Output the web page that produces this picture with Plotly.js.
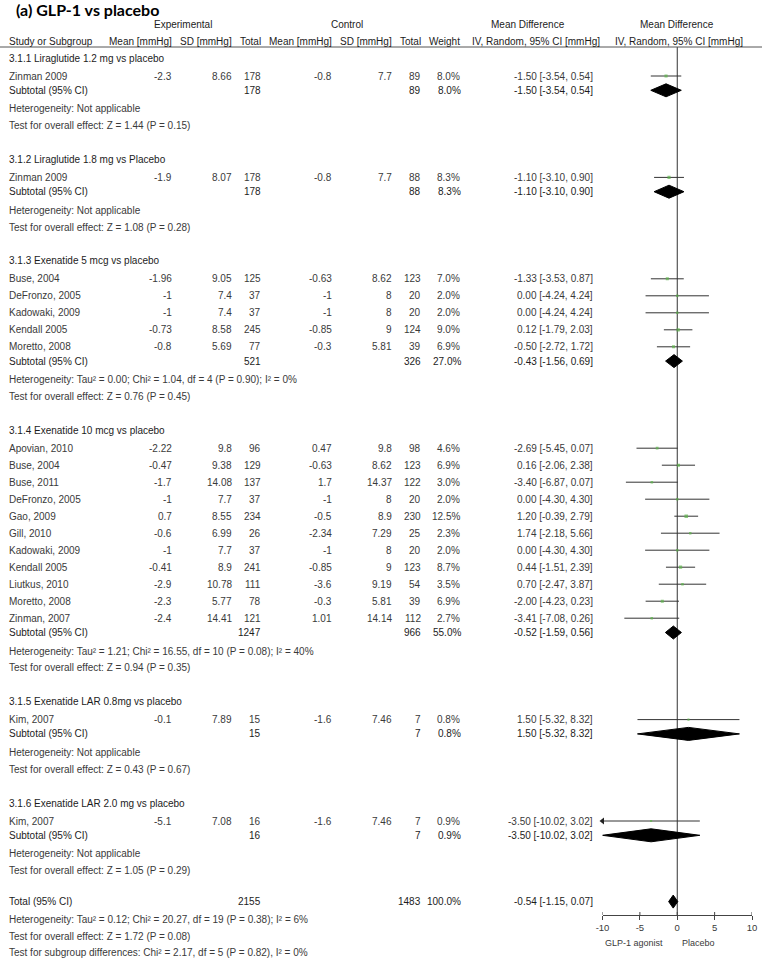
<!DOCTYPE html>
<html><head><meta charset="utf-8">
<script src="https://cdn.plot.ly/plotly-3.0.1.min.js"></script>
<style>html,body{margin:0;padding:0;background:#fff}</style>
</head><body><div id="chart" style="width:762px;height:960px"></div>
<script>
// ---------- data ----------
const groupNames = [
  '3.1.1 Liraglutide 1.2 mg vs placebo',
  '3.1.2 Liraglutide 1.8 mg vs Placebo',
  '3.1.3 Exenatide 5 mcg vs placebo',
  '3.1.4 Exenatide 10 mcg vs placebo',
  '3.1.5 Exenatide LAR 0.8mg vs placebo',
  '3.1.6 Exenatide LAR 2.0 mg vs placebo'
];
const groupHet = [
  'Heterogeneity: Not applicable',
  'Heterogeneity: Not applicable',
  'Heterogeneity: Tau² = 0.00; Chi² = 1.04, df = 4 (P = 0.90); I² = 0%',
  'Heterogeneity: Tau² = 1.21; Chi² = 16.55, df = 10 (P = 0.08); I² = 40%',
  'Heterogeneity: Not applicable',
  'Heterogeneity: Not applicable'
];
const groupTest = [
  'Test for overall effect: Z = 1.44 (P = 0.15)',
  'Test for overall effect: Z = 1.08 (P = 0.28)',
  'Test for overall effect: Z = 0.76 (P = 0.45)',
  'Test for overall effect: Z = 0.94 (P = 0.35)',
  'Test for overall effect: Z = 0.43 (P = 0.67)',
  'Test for overall effect: Z = 1.05 (P = 0.29)'
];
const subExpN   = [178, 178, 521, 1247, 15, 16];
const subCtlN   = [89, 88, 326, 966, 7, 7];
const subWeight = [8.0, 8.3, 27.0, 55.0, 0.8, 0.9];
const subMD     = [-1.50, -1.10, -0.43, -0.52, 1.50, -3.50];
const subLo     = [-3.54, -3.10, -1.56, -1.59, -5.32, -10.02];
const subHi     = [0.54, 0.90, 0.69, 0.56, 8.32, 3.02];

const studyGroup = [0, 1, 2, 2, 2, 2, 2, 3, 3, 3, 3, 3, 3, 3, 3, 3, 3, 3, 4, 5];
const studyNames = ['Zinman 2009', 'Zinman 2009',
  'Buse, 2004', 'DeFronzo, 2005', 'Kadowaki, 2009', 'Kendall 2005', 'Moretto, 2008',
  'Apovian, 2010', 'Buse, 2004', 'Buse, 2011', 'DeFronzo, 2005', 'Gao, 2009', 'Gill, 2010',
  'Kadowaki, 2009', 'Kendall 2005', 'Liutkus, 2010', 'Moretto, 2008', 'Zinman, 2007',
  'Kim, 2007', 'Kim, 2007'];
const expMean = [-2.3, -1.9, -1.96, -1, -1, -0.73, -0.8, -2.22, -0.47, -1.7, -1, 0.7, -0.6, -1, -0.41, -2.9, -2.3, -2.4, -0.1, -5.1];
const expSD   = [8.66, 8.07, 9.05, 7.4, 7.4, 8.58, 5.69, 9.8, 9.38, 14.08, 7.7, 8.55, 6.99, 7.7, 8.9, 10.78, 5.77, 14.41, 7.89, 7.08];
const expN    = [178, 178, 125, 37, 37, 245, 77, 96, 129, 137, 37, 234, 26, 37, 241, 111, 78, 121, 15, 16];
const ctlMean = [-0.8, -0.8, -0.63, -1, -1, -0.85, -0.3, 0.47, -0.63, 1.7, -1, -0.5, -2.34, -1, -0.85, -3.6, -0.3, 1.01, -1.6, -1.6];
const ctlSD   = [7.7, 7.7, 8.62, 8, 8, 9, 5.81, 9.8, 8.62, 14.37, 8, 8.9, 7.29, 8, 9, 9.19, 5.81, 14.14, 7.46, 7.46];
const ctlN    = [89, 88, 123, 20, 20, 124, 39, 98, 123, 122, 20, 230, 25, 20, 123, 54, 39, 112, 7, 7];
const weight  = [8.0, 8.3, 7.0, 2.0, 2.0, 9.0, 6.9, 4.6, 6.9, 3.0, 2.0, 12.5, 2.3, 2.0, 8.7, 3.5, 6.9, 2.7, 0.8, 0.9];
const md      = [-1.50, -1.10, -1.33, 0.00, 0.00, 0.12, -0.50, -2.69, 0.16, -3.40, 0.00, 1.20, 1.74, 0.00, 0.44, 0.70, -2.00, -3.41, 1.50, -3.50];
const ciLo    = [-3.54, -3.10, -3.53, -4.24, -4.24, -1.79, -2.72, -5.45, -2.06, -6.87, -4.30, -0.39, -2.18, -4.30, -1.51, -2.47, -4.23, -7.08, -5.32, -10.02];
const ciHi    = [0.54, 0.90, 0.87, 4.24, 4.24, 2.03, 1.72, 0.07, 2.38, 0.07, 4.30, 2.79, 5.66, 4.30, 2.39, 3.87, 0.23, 0.26, 8.32, 3.02];

const totalExpN = 2155, totalCtlN = 1483, totalWeight = 100.0;
const totalMD = -0.54, totalLo = -1.15, totalHi = 0.07;
const totalHet = 'Heterogeneity: Tau² = 0.12; Chi² = 20.27, df = 19 (P = 0.38); I² = 6%';
const totalTest = 'Test for overall effect: Z = 1.72 (P = 0.08)';
const subgroupDiff = 'Test for subgroup differences: Chi² = 2.17, df = 5 (P = 0.82), I² = 0%';

const tickVals = [-10, -5, 0, 5, 10];
const favoursLeft = 'GLP-1 agonist';
const favoursRight = 'Placebo';
const titleText = '(a) GLP-1 vs placebo';

// ---------- layout ----------
const W = 762, H = 960;
const FONT = '"Liberation Sans", Arial, sans-serif';
const TC = '#3a3a3a';     // normal text
const TD = '#1c1c1c';     // emphasised rows (headers, subtotals)
const AX_Y = 915;
const HEAD_LINE = 47;
const col = {name: 9, expMean: 172, expSD: 232, expN: 261, ctlMean: 332, ctlSD: 392, ctlN: 421, weight: 460, ci: 593};

// row positions
const groupY = [], studyY = [], subY = [], hetY = [], testY = [];
let y = 58;
for (let g = 0; g < groupNames.length; g++) {
  if (g > 0) y += 33.8;
  groupY.push(y);
  y += 18;
  let first = true;
  for (let i = 0; i < studyNames.length; i++) {
    if (studyGroup[i] !== g) continue;
    if (!first) y += 17;
    first = false;
    studyY[i] = y;
  }
  y += 14.3; subY.push(y);
  y += 18.5; hetY.push(y);
  y += 16.8; testY.push(y);
}
y += 31; const totalY = y;
y += 17.5; const totHetY = y;
y += 17; const totTestY = y;
y += 16; const subDiffY = y;

const anns = [];
function txt(x, yy, text, anchor, strong) {
  anns.push({
    xref: 'paper', yref: 'y', x: x / W, y: yy,
    text: text,
    xanchor: anchor, yanchor: 'middle', showarrow: false,
    borderpad: 0, borderwidth: 0,
    font: {family: FONT, size: 10, color: strong ? TD : TC}
  });
}
const f2 = v => v.toFixed(2);
const ciStr = (m, l, h) => f2(m) + ' [' + f2(l) + ', ' + f2(h) + ']';

// title
anns.push({xref: 'paper', yref: 'y', x: 16 / W, y: 9, text: '<b>' + titleText + '</b>',
  xanchor: 'left', yanchor: 'middle', showarrow: false, borderpad: 0, borderwidth: 0,
  font: {family: 'Lato, "Open Sans", sans-serif', size: 16, color: '#000'}});

// headers
txt(182.5, 24, 'Experimental', 'center', true);
txt(347, 24, 'Control', 'center', true);
txt(528, 24, 'Mean Difference', 'center', true);
txt(677, 24, 'Mean Difference', 'center', true);
txt(col.name, 41, 'Study or Subgroup', 'left', true);
txt(col.expMean, 41, 'Mean [mmHg]', 'right', true);
txt(col.expSD, 41, 'SD [mmHg]', 'right', true);
txt(col.expN, 41, 'Total', 'right', true);
txt(col.ctlMean, 41, 'Mean [mmHg]', 'right', true);
txt(col.ctlSD, 41, 'SD [mmHg]', 'right', true);
txt(col.ctlN, 41, 'Total', 'right', true);
txt(col.weight, 41, 'Weight', 'right', true);
txt(536, 41, 'IV, Random, 95% CI [mmHg]', 'center', true);
txt(679, 41, 'IV, Random, 95% CI [mmHg]', 'center', true);

// groups
for (let g = 0; g < groupNames.length; g++) {
  txt(col.name, groupY[g], groupNames[g], 'left', true);
  txt(col.name, subY[g], 'Subtotal (95% CI)', 'left', true);
  txt(col.expN, subY[g], String(subExpN[g]), 'right', true);
  txt(col.ctlN, subY[g], String(subCtlN[g]), 'right', true);
  txt(col.weight + 1.5, subY[g], subWeight[g].toFixed(1) + '%', 'right', true);
  txt(col.ci, subY[g], ciStr(subMD[g], subLo[g], subHi[g]), 'right', true);
  txt(col.name, hetY[g], groupHet[g], 'left', false);
  txt(col.name, testY[g], groupTest[g], 'left', false);
}
// studies
for (let i = 0; i < studyNames.length; i++) {
  const yy = studyY[i];
  txt(col.name, yy, studyNames[i], 'left', false);
  txt(col.expMean, yy, String(expMean[i]), 'right', false);
  txt(col.expSD, yy, String(expSD[i]), 'right', false);
  txt(col.expN, yy, String(expN[i]), 'right', false);
  txt(col.ctlMean, yy, String(ctlMean[i]), 'right', false);
  txt(col.ctlSD, yy, String(ctlSD[i]), 'right', false);
  txt(col.ctlN, yy, String(ctlN[i]), 'right', false);
  txt(col.weight, yy, weight[i].toFixed(1) + '%', 'right', false);
  txt(col.ci, yy, ciStr(md[i], ciLo[i], ciHi[i]), 'right', false);
}
// total
txt(col.name, totalY, 'Total (95% CI)', 'left', true);
txt(col.expN, totalY, String(totalExpN), 'right', true);
txt(col.ctlN, totalY, String(totalCtlN), 'right', true);
txt(col.weight + 1.5, totalY, totalWeight.toFixed(1) + '%', 'right', true);
txt(col.ci, totalY, ciStr(totalMD, totalLo, totalHi), 'right', true);
txt(col.name, totHetY, totalHet, 'left', false);
txt(col.name, totTestY, totalTest, 'left', false);
txt(col.name, subDiffY, subgroupDiff, 'left', false);

// favours labels
anns.push({xref: 'x', yref: 'y', x: -1.9, y: 943, text: favoursLeft, xanchor: 'right', yanchor: 'middle',
  showarrow: false, borderpad: 0, borderwidth: 0, font: {family: FONT, size: 9, color: TC}});
anns.push({xref: 'x', yref: 'y', x: 0.6, y: 943, text: favoursRight, xanchor: 'left', yanchor: 'middle',
  showarrow: false, borderpad: 0, borderwidth: 0, font: {family: FONT, size: 9, color: TC}});

// ---------- traces ----------
const XMIN = -10, XMAX = 10;
const traces = [];
traces.push({x: [0, 0], y: [HEAD_LINE, AX_Y], mode: 'lines', line: {color: '#333', width: 1}, hoverinfo: 'skip'});
const lx = [], ly = [], arrX = [], arrY = [];
for (let i = 0; i < studyNames.length; i++) {
  const lo = Math.max(ciLo[i], XMIN), hi = Math.min(ciHi[i], XMAX);
  lx.push(lo, hi, null); ly.push(studyY[i], studyY[i], null);
  if (ciLo[i] < XMIN) { arrX.push(XMIN); arrY.push(studyY[i]); }
}
traces.push({x: lx, y: ly, mode: 'lines', line: {color: '#333', width: 1}, hoverinfo: 'skip'});
traces.push({x: arrX, y: arrY, mode: 'markers', cliponaxis: false,
  marker: {symbol: 'triangle-left', size: 6, color: '#222'}, hoverinfo: 'skip'});
traces.push({x: md, y: studyY, mode: 'markers',
  marker: {symbol: 'square', color: '#5cb34a', size: weight.map(w => 1.6 + 0.55 * Math.sqrt(w)), line: {width: 0}},
  hoverinfo: 'skip'});
const DH = 6.5;
function diamond(m, l, h, yy) {
  traces.push({x: [l, m, h, m, l], y: [yy, yy - DH, yy, yy + DH, yy], mode: 'lines', fill: 'toself',
    fillcolor: '#000', line: {color: '#000', width: 1}, hoverinfo: 'skip'});
}
for (let g = 0; g < groupNames.length; g++) diamond(subMD[g], subLo[g], subHi[g], subY[g]);
diamond(totalMD, totalLo, totalHi, totalY);
const tx = [], ty = [];
tickVals.forEach(v => { tx.push(v, v, null); ty.push(AX_Y - 3, AX_Y, null); });
traces.push({x: tx, y: ty, mode: 'lines', line: {color: '#444', width: 1}, cliponaxis: false, hoverinfo: 'skip'});

const layout = {
  width: W, height: H,
  margin: {l: 0, r: 0, t: 0, b: 0, pad: 0},
  paper_bgcolor: '#fff', plot_bgcolor: 'rgba(0,0,0,0)',
  showlegend: false,
  font: {family: FONT, size: 10, color: TC},
  xaxis: {
    domain: [602.5 / W, 752 / W], range: [XMIN, XMAX],
    anchor: 'free', position: 1 - AX_Y / H,
    showline: true, linecolor: '#444', linewidth: 1,
    ticks: 'outside', ticklen: 4, tickcolor: '#444', tickwidth: 1,
    tickvals: tickVals, ticktext: tickVals.map(String),
    tickfont: {family: FONT, size: 9.5, color: TC},
    showgrid: false, zeroline: false, fixedrange: true
  },
  yaxis: {domain: [0, 1], range: [H, 0], visible: false, fixedrange: true},
  shapes: [{type: 'line', xref: 'paper', yref: 'y', x0: 0, x1: 1, y0: HEAD_LINE, y1: HEAD_LINE,
    line: {color: '#555', width: 1}}],
  annotations: anns
};
Plotly.newPlot('chart', traces, layout, {staticPlot: true, displayModeBar: false});
</script>
</body></html>
